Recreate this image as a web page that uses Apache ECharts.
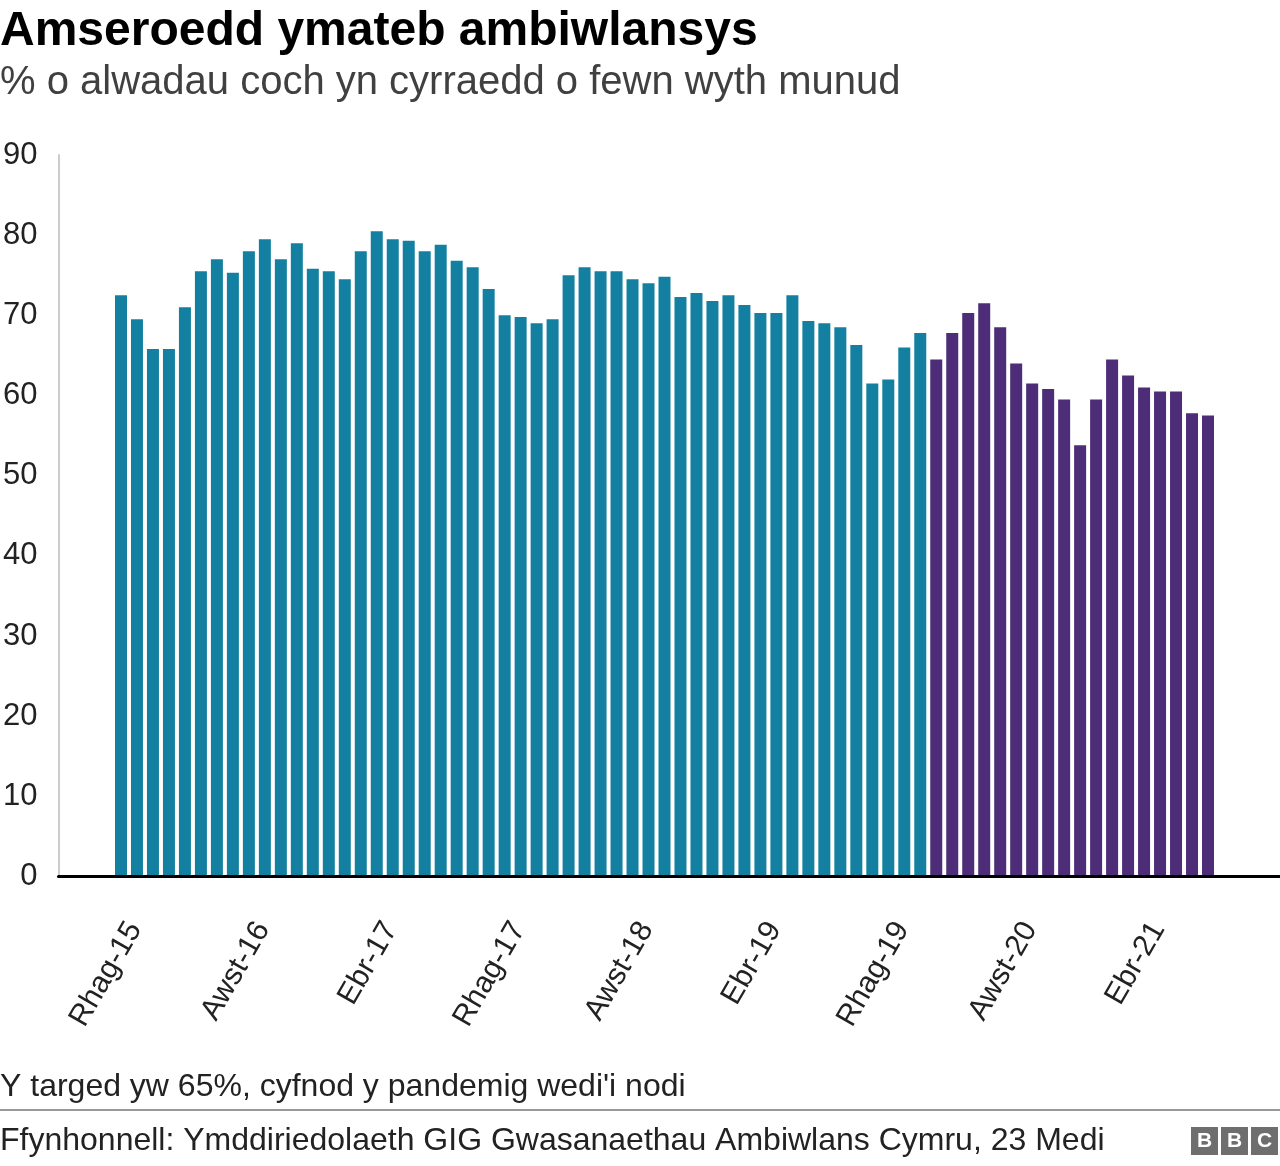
<!DOCTYPE html>
<html>
<head>
<meta charset="utf-8">
<script src="https://cdn.jsdelivr.net/npm/echarts@6/dist/echarts.min.js"></script>
<style>
html,body{margin:0;padding:0;background:#fff;}
#chart{width:1280px;height:1166px;}
</style>
</head>
<body>
<div id="chart"></div>
<script>
const titleText = 'Amseroedd ymateb ambiwlansys';
const subtitleText = '% o alwadau coch yn cyrraedd o fewn wyth munud';
const noteText = "Y targed yw 65%, cyfnod y pandemig wedi'i nodi";
const sourceText = 'Ffynhonnell: Ymddiriedolaeth GIG Gwasanaethau Ambiwlans Cymru, 23 Medi';

const months = [
  'Rhag-15',
  'Ion-16','Chwef-16','Maw-16','Ebr-16','Mai-16','Meh-16','Gorff-16','Awst-16','Medi-16','Hyd-16','Tach-16','Rhag-16',
  'Ion-17','Chwef-17','Maw-17','Ebr-17','Mai-17','Meh-17','Gorff-17','Awst-17','Medi-17','Hyd-17','Tach-17','Rhag-17',
  'Ion-18','Chwef-18','Maw-18','Ebr-18','Mai-18','Meh-18','Gorff-18','Awst-18','Medi-18','Hyd-18','Tach-18','Rhag-18',
  'Ion-19','Chwef-19','Maw-19','Ebr-19','Mai-19','Meh-19','Gorff-19','Awst-19','Medi-19','Hyd-19','Tach-19','Rhag-19',
  'Ion-20','Chwef-20','Maw-20','Ebr-20','Mai-20','Meh-20','Gorff-20','Awst-20','Medi-20','Hyd-20','Tach-20','Rhag-20',
  'Ion-21','Chwef-21','Maw-21','Ebr-21','Mai-21','Meh-21','Gorff-21','Awst-21'
];

const redCallPct = [
  72.5, 69.5, 65.8, 65.8, 71.0, 75.5, 77.0, 75.3, 78.0, 79.5, 77.0, 79.0, 75.8,
  75.5, 74.5, 78.0, 80.5, 79.5, 79.3, 78.0, 78.8, 76.8, 76.0, 73.3, 70.0,
  69.8, 69.0, 69.5, 75.0, 76.0, 75.5, 75.5, 74.5, 74.0, 74.8, 72.3, 72.8,
  71.8, 72.5, 71.3, 70.3, 70.3, 72.5, 69.3, 69.0, 68.5, 66.3, 61.5, 62.0,
  66.0, 67.8, 64.5, 67.8, 70.3, 71.5, 68.5, 64.0, 61.5, 60.8, 59.5, 53.8,
  59.5, 64.5, 62.5, 61.0, 60.5, 60.5, 57.8, 57.5
];

const pandemicStart = 'Maw-20';
const yTicks = { min: 0, max: 90, interval: 10 };

const teal = '#1380A1';
const purple = '#4D2D78';
const FONT = '"Liberation Sans", Arial, Helvetica, sans-serif';

const pIdx = months.indexOf(pandemicStart);
const barData = redCallPct.map((v, i) => ({
  value: v,
  itemStyle: { color: i >= pIdx ? purple : teal }
}));

const chart = echarts.init(document.getElementById('chart'), null, { renderer: 'canvas' });

const TOP = 155, BOTTOM = 289.5;

chart.setOption({
  backgroundColor: '#fff',
  animation: false,
  textStyle: { fontFamily: FONT },
  title: [
    { text: titleText, left: 0, top: 8, padding: 0,
      textStyle: { fontFamily: FONT, fontSize: 48, fontWeight: 'bold', color: '#000' } },
    { text: subtitleText, left: 0, top: 63, padding: 0,
      textStyle: { fontFamily: FONT, fontSize: 40, fontWeight: 'normal', color: '#404040' } },
    { text: noteText, left: 0, top: 1071, padding: 0,
      textStyle: { fontFamily: FONT, fontSize: 32, fontWeight: 'normal', color: '#222' } },
    { text: sourceText, left: 0, top: 1125, padding: 0,
      textStyle: { fontFamily: FONT, fontSize: 32, fontWeight: 'normal', color: '#222' } }
  ],
  grid: [
    { left: 57, right: 0, top: TOP, bottom: BOTTOM, containLabel: false },
    { left: 113, right: 64, top: TOP, bottom: BOTTOM, containLabel: false },
    { left: 127, right: 50, top: TOP, bottom: BOTTOM, containLabel: false }
  ],
  xAxis: [
    { gridIndex: 0, type: 'value', min: 0, max: 1, z: 10,
      axisLine: { show: true, onZero: false, lineStyle: { color: '#000', width: 3 } },
      axisTick: { show: false }, axisLabel: { show: false }, splitLine: { show: false } },
    { gridIndex: 1, type: 'category', data: months,
      axisLine: { show: false }, axisTick: { show: false }, axisLabel: { show: false } },
    { gridIndex: 2, type: 'category', data: months,
      axisLine: { show: false }, axisTick: { show: false },
      axisLabel: { show: true, interval: 7, rotate: 60, margin: 48,
        fontFamily: FONT, fontSize: 30, color: '#222' } }
  ],
  yAxis: [
    { gridIndex: 0, type: 'value', min: yTicks.min, max: yTicks.max, interval: yTicks.interval,
      axisLine: { show: true, lineStyle: { color: '#cccccc', width: 2 } },
      axisTick: { show: false }, splitLine: { show: false },
      axisLabel: { margin: 21, fontFamily: FONT, fontSize: 31, color: '#222' } },
    { gridIndex: 1, type: 'value', min: yTicks.min, max: yTicks.max, interval: yTicks.interval, show: false },
    { gridIndex: 2, type: 'value', min: yTicks.min, max: yTicks.max, interval: yTicks.interval, show: false }
  ],
  series: [
    { type: 'bar', xAxisIndex: 1, yAxisIndex: 1, data: barData,
      barWidth: 12, silent: true }
  ],
  graphic: [
    { type: 'rect', shape: { x: 0, y: 1109, width: 1280, height: 2 }, style: { fill: '#999' } },
    { type: 'group', left: 1191, top: 1127, children: [
      { type: 'rect', shape: { x: 0, y: 0, width: 27, height: 28 }, style: { fill: '#6e6e6e' } },
      { type: 'rect', shape: { x: 30, y: 0, width: 27, height: 28 }, style: { fill: '#6e6e6e' } },
      { type: 'rect', shape: { x: 60, y: 0, width: 27, height: 28 }, style: { fill: '#6e6e6e' } },
      { type: 'text', x: 13.5, y: 14, style: { text: 'B', fill: '#fff', font: 'bold 21px ' + FONT, align: 'center', verticalAlign: 'middle' } },
      { type: 'text', x: 43.5, y: 14, style: { text: 'B', fill: '#fff', font: 'bold 21px ' + FONT, align: 'center', verticalAlign: 'middle' } },
      { type: 'text', x: 73.5, y: 14, style: { text: 'C', fill: '#fff', font: 'bold 21px ' + FONT, align: 'center', verticalAlign: 'middle' } }
    ]}
  ]
});
</script>
</body>
</html>
